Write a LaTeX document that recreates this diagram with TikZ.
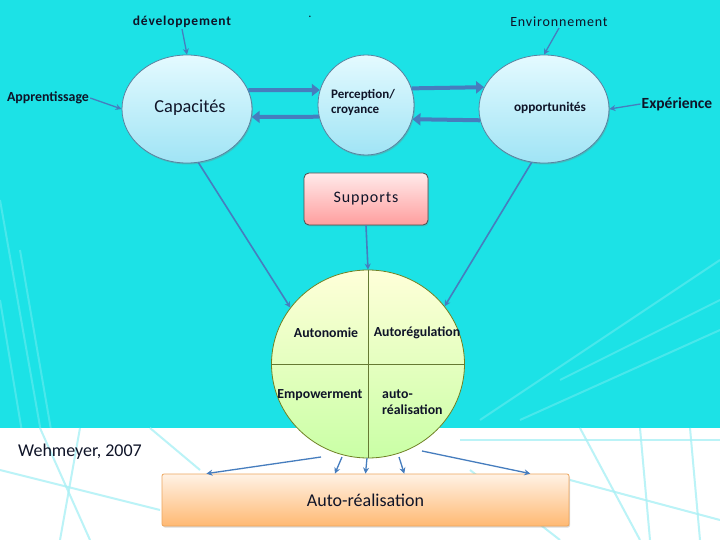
\documentclass[tikz,border=0pt]{standalone}
\usepackage{fontspec}
\setmainfont{Carlito}
\newfontfamily\spaced[LetterSpace=6]{Carlito}
\usetikzlibrary{arrows.meta,shadows,shapes.geometric,calc}
\definecolor{bgcyan}{RGB}{28,226,230}
\definecolor{arrowblue}{RGB}{70,125,190}
\definecolor{ellbord}{RGB}{90,130,160}
\definecolor{elltop}{RGB}{228,250,255}
\definecolor{ellbot}{RGB}{160,228,245}
\definecolor{txt}{RGB}{15,20,40}
\definecolor{streak}{RGB}{170,240,245}
\tikzset{
  bubble/.style={ellipse, draw=ellbord, line width=0.8pt, top color=elltop, bottom color=ellbot,
    drop shadow={shadow xshift=1pt,shadow yshift=-1.5pt,opacity=0.35}, inner sep=0pt},
  inlbl/.style={font=\fontsize{13.8}{15.5}\selectfont\bfseries, text=txt, inner sep=1pt},
  bigarrow/.style={draw=arrowblue, line width=4pt, -{Triangle[length=8pt,width=12pt]}},
  thinarrow/.style={draw=arrowblue, line width=1.6pt, -{Stealth[length=6pt,width=6pt]}},
}
\begin{document}
\begin{tikzpicture}[x=1pt,y=-1pt]
\useasboundingbox (0,0) rectangle (720,540);
% background
\fill[white] (0,0) rectangle (720,540);
\fill[bgcyan] (0,0) rectangle (720,428);
% decorative streaks
\begin{scope}[line width=2pt, draw=white, opacity=0.2]
\draw (0,200) -- (60,540);
\draw (20,250) -- (70,540);
\draw (0,300) -- (40,540);
\draw (480,420) -- (720,260);
\draw (520,420) -- (720,330);
\draw (560,380) -- (720,300);
\end{scope}
\begin{scope}[line width=2pt, draw=streak, opacity=0.8]
\draw (40,428) -- (90,540);
\draw (80,428) -- (60,540);
\draw (150,428) -- (200,470);
\draw (0,470) -- (160,510);
\draw (460,440) -- (720,440);
\draw (580,428) -- (640,540);
\draw (640,428) -- (650,540);
\draw (690,428) -- (700,540);
\draw (570,480) -- (720,520);
\draw (470,470) -- (560,540);
\end{scope}

% ellipses
\node[bubble, minimum width=130pt, minimum height=108pt] (cap) at (187,109) {};
\node[font=\fontsize{18.3}{20}\selectfont, text=txt] at (190,108) {Capacités};
\node[bubble, minimum width=96pt, minimum height=100pt] (per) at (366,105) {};
\node[font=\fontsize{13}{15}\selectfont\bfseries, text=txt, inner sep=1pt, align=left] at (363,102) {Perception/\\croyance};
\node[bubble, minimum width=130pt, minimum height=108pt] (opp) at (544,109) {};
\node[font=\fontsize{13.3}{15}\selectfont\bfseries, text=txt, inner sep=1pt] at (550,108) {opportunités};

% outer labels
\node[font=\spaced\fontsize{13.5}{15}\selectfont\bfseries, text=txt, inner sep=1pt] (dev) at (182,22) {développement};
\node[font=\spaced\fontsize{14}{16}\selectfont, text=txt, inner sep=1pt] (env) at (559,22) {Environnement};
\node[font=\fontsize{13.9}{15}\selectfont\bfseries, text=txt, inner sep=1pt] (app) at (48,98) {Apprentissage};
\node[font=\fontsize{15.5}{17}\selectfont\bfseries, text=txt, inner sep=1pt] (exp) at (677,104) {Expérience};
\node[text=txt, font=\fontsize{10}{10}\selectfont\bfseries, inner sep=0pt] (dot) at (310,17) {.};

\draw[thinarrow, line width=1.3pt] (dev.south) -- (cap.north);
\draw[thinarrow, line width=1.3pt] (env.south) -- (opp.north);
\draw[thinarrow, line width=1.3pt] (app.east) -- (cap.west);
\draw[thinarrow, line width=1.3pt] (exp.west) -- (opp.east);

% big arrows between ellipses
\draw[bigarrow] (cap.17.5) -- (per.162);
\draw[bigarrow] (per.194) -- (cap.-7);
\draw[bigarrow] (per.20) -- (opp.160);
\draw[bigarrow] (opp.190) -- (per.-17);

% supports
\node[draw=black!70, line width=0.8pt, rounded corners=5pt, top color=red!8, bottom color=red!38,
  minimum width=124pt, minimum height=52pt,
  drop shadow={shadow xshift=1pt,shadow yshift=-1.5pt,opacity=0.3},
  font=\spaced\fontsize{16}{18}\selectfont, text=txt] (sup) at (366,199) {Supports};

% big circle
\node[ellipse, draw=olive!70!green!80!black, line width=0.8pt, top color=yellow!15, bottom color=green!60!yellow!35,
  minimum width=193pt, minimum height=188pt, inner sep=0pt] (circ) at (368,364) {};
\draw[olive!60!green!70!black, line width=0.8pt] (circ.north) -- (circ.south);
\draw[olive!60!green!70!black, line width=0.8pt] (circ.west) -- (circ.east);
\node[inlbl] at (326,333) {Autonomie};
\node[inlbl] at (417,333) {Autorégulation};
\node[inlbl] at (320,395) {Empowerment};
\node[inlbl, align=left, anchor=west] at (381,402) {auto-\\réalisation};

\draw[thinarrow] (sup.south) -- (circ.north);
\draw[thinarrow] (cap.-78) -- (circ.144);
\draw[thinarrow] (opp.-103) -- (circ.37);

% bottom box
\node[draw=orange!60!brown!70, line width=0.8pt, rounded corners=2pt, top color=orange!10, bottom color=orange!55,
  minimum width=407pt, minimum height=52pt,
  drop shadow={shadow xshift=1pt,shadow yshift=-1.5pt,opacity=0.3},
  font=\fontsize{18}{20}\selectfont, text=txt] (box) at (365.5,500) {Auto-réalisation};

\node[font=\fontsize{18}{20}\selectfont, text=txt] (ref) at (80,452) {Wehmeyer, 2007};

% arrows from circle to box
\coordinate (s1) at (321,457);
\coordinate (s2) at (342,457);
\coordinate (s3) at (367,458);
\coordinate (s4) at (399,457);
\coordinate (s5) at (422,451);
\draw[thinarrow, line width=1.3pt] (s1) -- ($(box.north west)!0.11!(box.north east)$);
\draw[thinarrow, line width=1.3pt] (s2) -- ($(box.north west)!0.425!(box.north east)$);
\draw[thinarrow, line width=1.3pt] (s3) -- ($(box.north west)!0.50!(box.north east)$);
\draw[thinarrow, line width=1.3pt] (s4) -- ($(box.north west)!0.595!(box.north east)$);
\draw[thinarrow, line width=1.3pt] (s5) -- ($(box.north west)!0.904!(box.north east)$);
\end{tikzpicture}
\end{document}
